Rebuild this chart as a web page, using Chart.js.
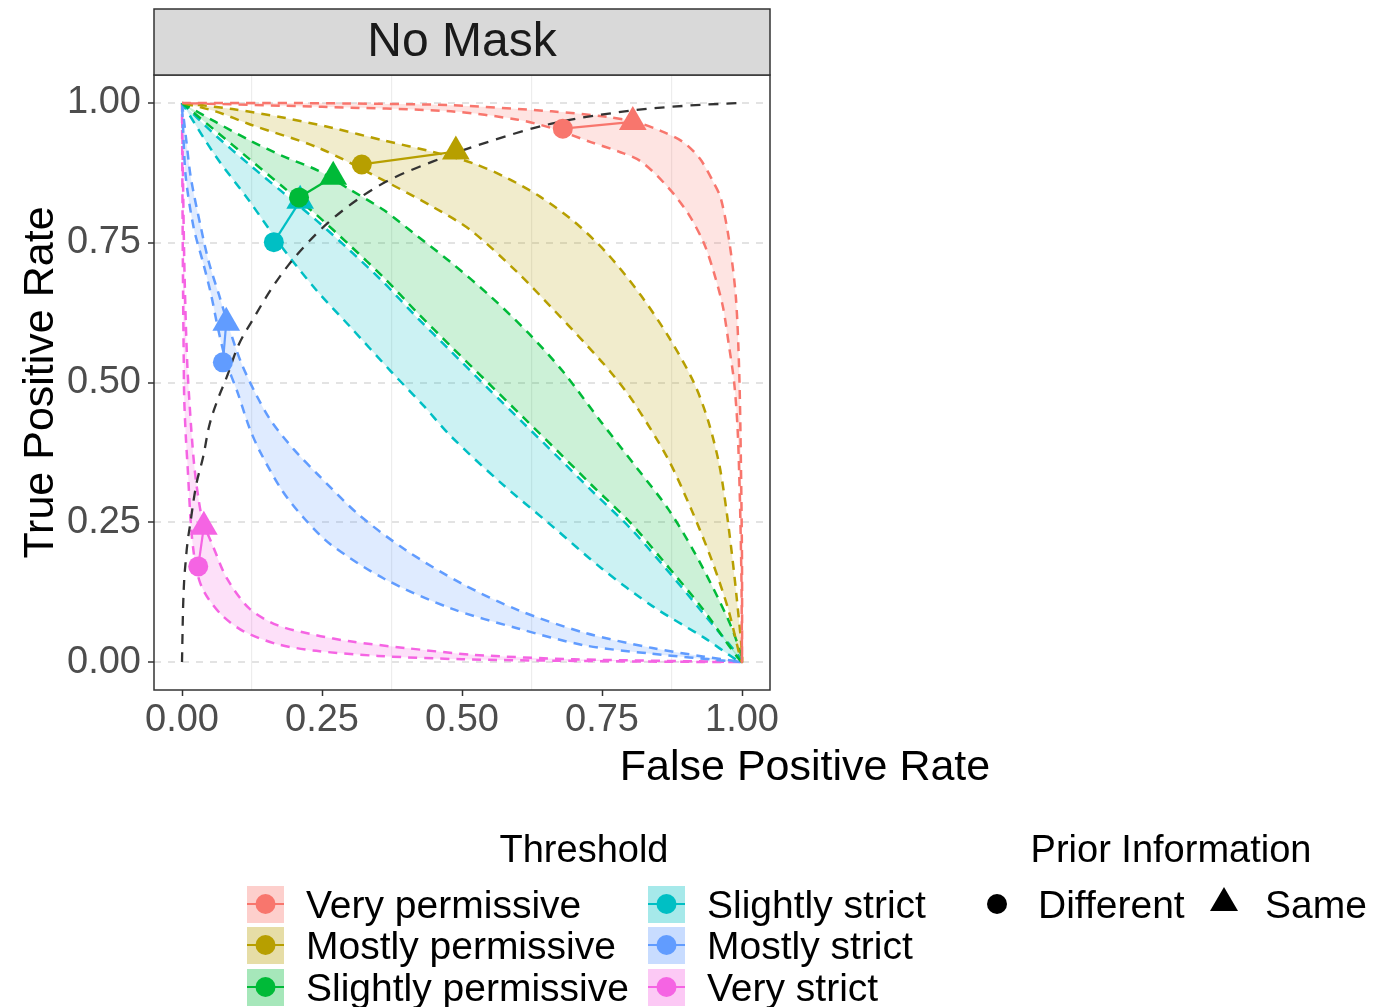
<!DOCTYPE html>
<html>
<head>
<meta charset="utf-8">
<script src="https://cdn.jsdelivr.net/npm/chart.js@4.4.1/dist/chart.umd.min.js"></script>
<style>
html, body { margin: 0; padding: 0; background: #fff; }
</style>
</head>
<body>
<canvas id="roc_chart" width="1389" height="1007"></canvas>
<script>
var FONT = '"Liberation Sans", Arial, sans-serif';

var thresholds = ['Very permissive', 'Mostly permissive', 'Slightly permissive',
                  'Slightly strict', 'Mostly strict', 'Very strict'];
var hues = ['#F8766D', '#B79F00', '#00BA38', '#00BFC4', '#619CFF', '#F564E3'];
var axisTicks = [0, 0.25, 0.5, 0.75, 1];
var minorTicks = [0.125, 0.375, 0.625, 0.875];

// observed points, prior information "Different" (circle) and "Same" (triangle)
var diffFPR = [0.680, 0.321, 0.209, 0.164, 0.073, 0.029];
var diffTPR = [0.954, 0.890, 0.831, 0.751, 0.536, 0.171];
var sameFPR = [0.805, 0.489, 0.270, 0.211, 0.079, 0.039];
var sameTPR = [0.966, 0.913, 0.868, 0.825, 0.607, 0.242];

// reference curve (black dashed)
var refFPR = [0, 0.002, 0.007, 0.016, 0.025, 0.038, 0.048, 0.064, 0.08, 0.1, 0.125, 0.16, 0.19,
              0.22, 0.26, 0.32, 0.37, 0.46, 0.53, 0.66, 0.8, 0.9, 1.0];
var refTPR = [0, 0.1, 0.185, 0.256, 0.315, 0.368, 0.42, 0.47, 0.51, 0.565, 0.61, 0.668, 0.71,
              0.745, 0.785, 0.832, 0.862, 0.9, 0.925, 0.963, 0.986, 0.995, 1.0];

// band edges [fpr, tpr]
var vpOuter = [[0,1],[0.15,1],[0.3,0.999],[0.48,0.996],[0.66,0.985],[0.76,0.975],[0.81,0.966],[0.855,0.95],
               [0.895,0.93],[0.925,0.9],[0.948,0.86],[0.962,0.83],[0.977,0.754],[0.989,0.653],[0.995,0.52],
               [0.998,0.36],[1,0.18],[1,0]];
var vpInner = [[0,1],[0.25,0.993],[0.48,0.985],[0.6,0.97],[0.66,0.955],[0.73,0.93],[0.78,0.913],[0.82,0.895],
               [0.868,0.849],[0.904,0.802],[0.932,0.749],[0.95,0.696],[0.966,0.635],[0.977,0.564],[0.986,0.5],
               [0.992,0.42],[0.996,0.3],[0.999,0.15],[1,0]];
var mpOuter = [[0,1],[0.09,0.989],[0.18,0.974],[0.27,0.955],[0.36,0.933],[0.45,0.912],[0.52,0.892],[0.58,0.866],
               [0.64,0.832],[0.7,0.788],[0.76,0.73],[0.82,0.655],[0.87,0.58],[0.914,0.5],[0.94,0.43],
               [0.96,0.35],[0.975,0.25],[0.99,0.12],[1,0]];
var mpInner = [[0,1],[0.06,0.985],[0.123,0.961],[0.243,0.92],[0.361,0.861],[0.45,0.813],[0.516,0.772],[0.6,0.696],
               [0.659,0.635],[0.718,0.572],[0.766,0.518],[0.807,0.464],[0.868,0.363],[0.909,0.274],[0.945,0.185],
               [0.975,0.096],[1,0]];
var spOuter = [[0,1],[0.06,0.966],[0.123,0.932],[0.18,0.905],[0.243,0.879],[0.3,0.845],[0.361,0.808],[0.42,0.762],
               [0.48,0.715],[0.552,0.653],[0.618,0.589],[0.68,0.52],[0.748,0.43],[0.814,0.345],[0.868,0.274],
               [0.914,0.198],[0.957,0.115],[0.986,0.05],[1,0]];
var spInner = [[0,1],[0.06,0.95],[0.12,0.9],[0.18,0.85],[0.24,0.8],[0.3,0.745],[0.36,0.688],[0.42,0.625],
               [0.48,0.565],[0.546,0.5],[0.61,0.437],[0.67,0.378],[0.73,0.318],[0.8,0.25],[0.86,0.18],
               [0.93,0.095],[1,0]];
var ssOuter = [[0,1],[0.06,0.942],[0.12,0.89],[0.18,0.84],[0.24,0.79],[0.3,0.736],[0.36,0.679],[0.42,0.616],
               [0.48,0.556],[0.546,0.49],[0.61,0.427],[0.67,0.368],[0.73,0.308],[0.8,0.24],[0.86,0.172],
               [0.93,0.088],[1,0]];
var ssInner = [[0,1],[0.06,0.905],[0.12,0.825],[0.18,0.74],[0.24,0.665],[0.3,0.6],[0.373,0.52],[0.43,0.46],
               [0.48,0.404],[0.57,0.32],[0.66,0.244],[0.75,0.167],[0.84,0.1],[0.93,0.045],[1,0]];
var msOuter = [[0,1],[0.008,0.93],[0.016,0.865],[0.034,0.776],[0.048,0.715],[0.066,0.657],[0.084,0.598],
               [0.105,0.537],[0.132,0.479],[0.16,0.43],[0.2,0.38],[0.243,0.335],[0.314,0.265],[0.4,0.2],
               [0.5,0.14],[0.6,0.093],[0.72,0.052],[0.84,0.025],[0.93,0.01],[1,0]];
var msInner = [[0,1],[0.002,0.95],[0.007,0.865],[0.021,0.776],[0.0375,0.715],[0.052,0.657],[0.064,0.598],
               [0.079,0.537],[0.1,0.48],[0.12,0.42],[0.14,0.375],[0.18,0.305],[0.22,0.255],[0.266,0.21],
               [0.361,0.149],[0.48,0.096],[0.6,0.06],[0.718,0.03],[0.838,0.015],[1,0]];
var vsOuter = [[0,1],[0.002,0.85],[0.004,0.72],[0.007,0.6],[0.01,0.52],[0.013,0.47],[0.017,0.41],[0.022,0.35],
               [0.029,0.295],[0.0375,0.251],[0.055,0.208],[0.08,0.15],[0.12,0.096],[0.17,0.066],[0.24,0.048],
               [0.3,0.037],[0.4,0.025],[0.52,0.013],[0.7,0.005],[1,0]];
var vsInner = [[0,1],[0.001,0.8],[0.002,0.65],[0.003,0.55],[0.004,0.47],[0.007,0.4],[0.01,0.35],[0.016,0.244],
               [0.021,0.195],[0.027,0.16],[0.035,0.135],[0.048,0.112],[0.073,0.082],[0.11,0.055],[0.17,0.032],
               [0.24,0.02],[0.35,0.011],[0.5,0.005],[0.7,0.002],[1,0]];

var bandOuter = [vpOuter, mpOuter, spOuter, ssOuter, msOuter, vsOuter];
var bandInner = [vpInner, mpInner, spInner, ssInner, msInner, vsInner];

function rgba(hex, a) {
    var n = parseInt(hex.slice(1), 16);
    return 'rgba(' + (n >> 16) + ',' + ((n >> 8) & 255) + ',' + (n & 255) + ',' + a + ')';
}
function toXY(pairs) {
    return pairs.map(function(p) { return {x: p[0], y: p[1]}; });
}

var datasets = [];
// point pairs on top
thresholds.forEach(function(t, i) {
    datasets.push({
        label: t + ' points',
        data: [{x: diffFPR[i], y: diffTPR[i]}, {x: sameFPR[i], y: sameTPR[i]}],
        showLine: true,
        borderColor: hues[i],
        borderWidth: 2.2,
        backgroundColor: hues[i],
        pointStyle: ['circle', 'triangle'],
        pointRadius: [10, 16],
        pointBorderWidth: 0,
        pointBackgroundColor: hues[i],
        order: 0
    });
});
datasets.push({
    label: 'reference',
    data: refFPR.map(function(v, k) { return {x: v, y: refTPR[k]}; }),
    showLine: true,
    borderColor: '#333333',
    borderWidth: 2.3,
    borderDash: [10, 8],
    pointRadius: 0,
    cubicInterpolationMode: 'monotone',
    order: 1
});
thresholds.forEach(function(t, i) {
    var outline = bandOuter[i].concat(bandInner[i].slice(0, -1).reverse());
    datasets.push({
        label: t,
        data: toXY(outline),
        showLine: true,
        fill: 'shape',
        backgroundColor: rgba(hues[i], 0.2),
        borderColor: hues[i],
        borderWidth: 2.5,
        borderDash: [9, 7],
        pointRadius: 0,
        tension: 0.3,
        order: 2
    });
});

function fixedTicks(list) {
    return function(scale) {
        scale.ticks = list.map(function(v) { return {value: v}; });
    };
}

var decor = {
    id: 'decor',
    beforeDraw: function(chart) {
        var c = chart.ctx;
        c.save();
        c.fillStyle = '#fff';
        c.fillRect(0, 0, chart.width, chart.height);
        c.restore();
    },
    afterDraw: function(chart) {
        var c = chart.ctx, a = chart.chartArea;
        c.save();
        c.strokeStyle = '#333333';
        c.lineWidth = 1.5;
        c.strokeRect(a.left, a.top, a.right - a.left, a.bottom - a.top);

        // facet strip
        c.fillStyle = '#D9D9D9';
        c.fillRect(a.left, 9, a.right - a.left, a.top - 9);
        c.strokeRect(a.left, 9, a.right - a.left, a.top - 9);
        c.fillStyle = '#1A1A1A';
        c.font = '48px ' + FONT;
        c.textAlign = 'center';
        c.textBaseline = 'middle';
        c.fillText('No Mask', (a.left + a.right) / 2, 43);

        // axis titles
        c.fillStyle = '#000';
        c.font = '43px ' + FONT;
        c.textBaseline = 'alphabetic';
        c.fillText('False Positive Rate', 805, 780);
        c.save();
        c.translate(53, (a.top + a.bottom) / 2);
        c.rotate(-Math.PI / 2);
        c.fillText('True Positive Rate', 0, 0);
        c.restore();

        // legends
        c.font = '38px ' + FONT;
        c.fillText('Threshold', 584, 862);
        c.fillText('Prior Information', 1171, 862);
        c.textAlign = 'left';
        c.font = '39px ' + FONT;
        var cols = [247, 648], rows = [904, 945, 987];
        thresholds.forEach(function(t, i) {
            var kx = cols[Math.floor(i / 3)], ky = rows[i % 3];
            c.fillStyle = rgba(hues[i], 0.35);
            c.fillRect(kx, ky - 18, 37, 37);
            c.strokeStyle = hues[i];
            c.lineWidth = 2;
            c.beginPath();
            c.moveTo(kx, ky);
            c.lineTo(kx + 37, ky);
            c.stroke();
            c.fillStyle = hues[i];
            c.beginPath();
            c.arc(kx + 18.5, ky, 10, 0, 2 * Math.PI);
            c.fill();
            c.fillStyle = '#000';
            c.fillText(t, kx + 59, ky + 14);
        });
        c.fillStyle = '#000';
        c.beginPath();
        c.arc(997, 904, 10, 0, 2 * Math.PI);
        c.fill();
        c.fillText('Different', 1038, 918);
        c.beginPath();
        c.moveTo(1224, 887);
        c.lineTo(1238, 911);
        c.lineTo(1210, 911);
        c.closePath();
        c.fill();
        c.fillText('Same', 1265, 918);
        c.restore();
    }
};

var tickFont = {family: FONT, size: 38};
new Chart(document.getElementById('roc_chart'), {
    type: 'scatter',
    data: {datasets: datasets},
    plugins: [decor],
    options: {
        responsive: false,
        animation: false,
        events: [],
        layout: {padding: {left: 0, top: 75, right: 619, bottom: 257}},
        plugins: {legend: {display: false}, tooltip: {enabled: false}},
        scales: {
            x: {
                type: 'linear', position: 'bottom', min: -0.05, max: 1.05,
                afterBuildTicks: fixedTicks(axisTicks),
                afterFit: function(s) { s.height = 60; },
                ticks: {font: tickFont, color: '#4D4D4D', padding: 2, maxRotation: 0, autoSkip: false,
                        callback: function(v) { return v.toFixed(2); }},
                grid: {drawOnChartArea: false, tickLength: 6, tickColor: '#333333', tickWidth: 1.5},
                border: {display: false}
            },
            xMinor: {
                type: 'linear', axis: 'x', position: 'bottom', min: -0.05, max: 1.05,
                afterBuildTicks: fixedTicks(minorTicks),
                afterFit: function(s) { s.height = 0; },
                ticks: {display: false},
                grid: {color: '#EDEDED', lineWidth: 1.2, drawTicks: false},
                border: {display: false}
            },
            y: {
                type: 'linear', min: -0.05, max: 1.05,
                afterBuildTicks: fixedTicks(axisTicks),
                afterFit: function(s) { s.width = 154; },
                ticks: {font: tickFont, color: '#4D4D4D', padding: 7,
                        callback: function(v) { return v.toFixed(2); }},
                grid: {color: '#E3E3E3', lineWidth: 2, tickLength: 6, tickColor: '#333333', tickWidth: 1.5},
                border: {display: false, dash: [7, 7]}
            }
        }
    }
});
</script>
</body>
</html>
